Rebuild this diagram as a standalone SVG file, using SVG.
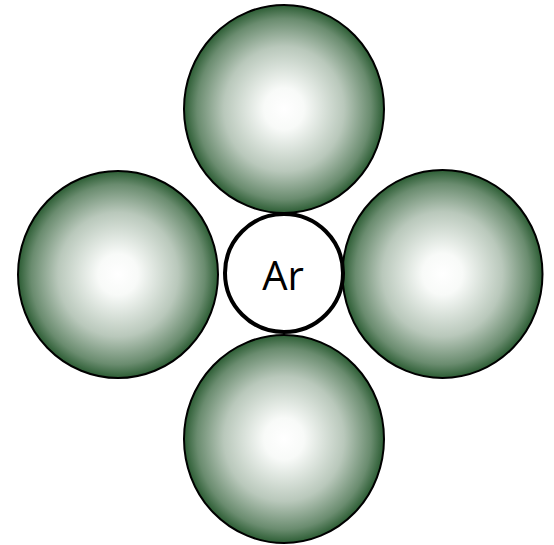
<svg xmlns="http://www.w3.org/2000/svg" width="554" height="545" viewBox="0 0 554 545">
<style>
.sphere{fill:url(#g);stroke:#000;stroke-width:2}
.ar{fill:#fff;stroke:#000;stroke-width:4}
.lbl{font-family:"Open Sans","DejaVu Sans",sans-serif;font-size:40px;fill:#000;text-anchor:middle}
</style>
<defs>
<radialGradient id="g" cx="0.5" cy="0.5" r="0.5">
<stop offset="0" stop-color="#ffffff"/>
<stop offset="0.2" stop-color="#f8faf8"/>
<stop offset="0.6" stop-color="#b9c8bb"/>
<stop offset="0.87" stop-color="#6a8c6f"/>
<stop offset="1" stop-color="#2c5d34"/>
</radialGradient>
</defs>
<g id="top"><ellipse class="sphere" cx="284" cy="109" rx="100" ry="104"/></g>
<g id="left"><ellipse class="sphere" cx="118" cy="274.5" rx="100" ry="103.5"/></g>
<g id="right"><ellipse class="sphere" cx="442.5" cy="274" rx="100" ry="104"/></g>
<g id="bottom"><ellipse class="sphere" cx="284" cy="439" rx="100" ry="104"/></g>
<g id="ar"><circle class="ar" cx="284" cy="273" r="59"/><text class="lbl" x="283" y="290">Ar</text></g>
<g id="connectors"></g>
</svg>
